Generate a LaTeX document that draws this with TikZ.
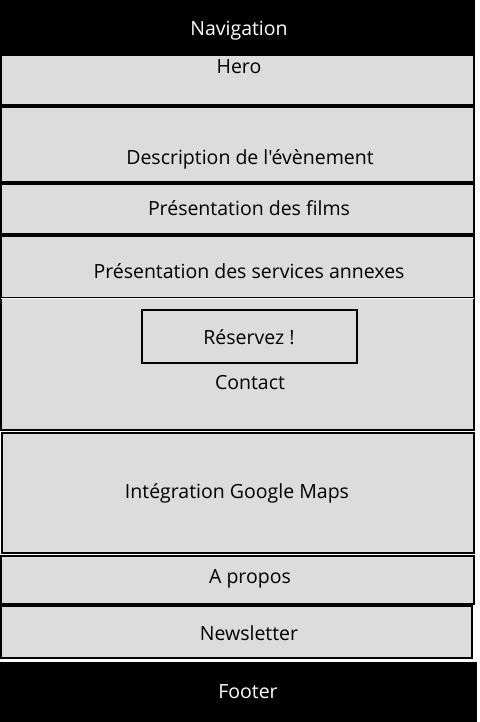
\documentclass[tikz,border=0pt]{standalone}
\usepackage{fontspec}
\setmainfont{Open Sans}[Ligatures=TeXOff]
\definecolor{boxgray}{HTML}{DCDCDC}
\begin{document}
\begin{tikzpicture}[x=1pt,y=-1pt,
  sect/.style={draw=black,line width=1.6pt,fill=boxgray},
  darkbar/.style={fill=black},
  lbl/.style={font=\fontsize{19.5}{22}\selectfont,text=black},
  wlbl/.style={font=\fontsize{19.5}{22}\selectfont,text=white},
  btn/.style={draw=black,line width=2.4pt,fill=boxgray}]
\useasboundingbox[fill=white] (0,0) rectangle (479,722);
% sections
\fill[darkbar] (0,0) rectangle (475,54);
\draw[sect] (1,55) rectangle (474,105);
\draw[sect] (1,107) rectangle (474,182);
\draw[sect] (1,184) rectangle (474,234);
\draw[sect] (1,236) rectangle (474,298);
\draw[sect] (1,298) rectangle (474,430);
\draw[white,line width=0.8pt] (1,298) -- (474,298);
\draw[sect] (2,433) rectangle (474,553);
\draw[sect] (1,556) rectangle (474,604);
\draw[sect] (1,606) rectangle (472,658);
\fill[darkbar] (0,662) rectangle (477,722);
\draw[btn] (142,310) rectangle (357,363);
% labels
\node[wlbl] (nav) at (239,30.5) {Navigation};
\node[lbl] (hero) at (239,66.5) {Hero};
\node[lbl] (desc) at (250,159.5) {Description de l'évènement};
\node[lbl] (films) at (249,208.5) {Présentation des films};
\node[lbl] (serv) at (249,271.5) {Présentation des services annexes};
\node[lbl] (resa) at (249,337.5) {Réservez !};
\node[lbl] (contact) at (250,382.5) {Contact};
\node[lbl] (maps) at (237,493.5) {Intégration Google Maps};
\node[lbl] (apropos) at (250,578.5) {A propos};
\node[lbl] (news) at (249,633.5) {Newsletter};
\node[wlbl] (footer) at (248,691.5) {Footer};
\end{tikzpicture}
\end{document}
